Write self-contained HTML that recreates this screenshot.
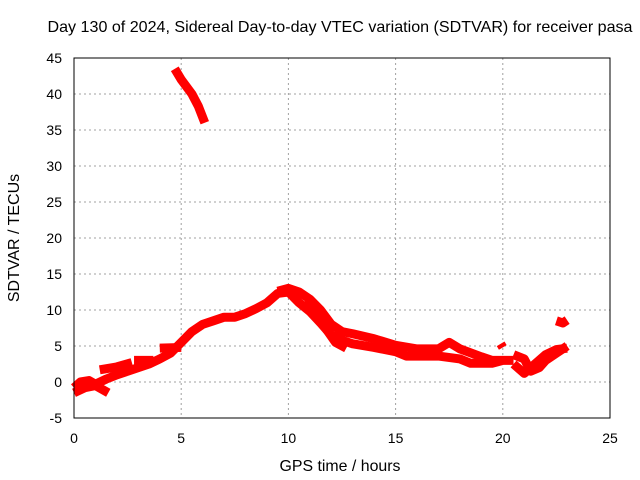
<!DOCTYPE html>
<html><head><meta charset="utf-8"><style>
body{margin:0;background:#fff;}
svg{display:block;font-family:"Liberation Sans",sans-serif;}
</style></head><body>
<svg id="chart" width="640" height="480" viewBox="0 0 640 480">
<text x="340" y="32" font-size="16" text-anchor="middle" textLength="585" lengthAdjust="spacingAndGlyphs">Day 130 of 2024, Sidereal Day-to-day VTEC variation (SDTVAR) for receiver pasa</text>
<text x="340" y="471" font-size="16" text-anchor="middle" textLength="121" lengthAdjust="spacingAndGlyphs">GPS time / hours</text>
<text x="19" y="238" font-size="16" text-anchor="middle" transform="rotate(-90 19 238)">SDTVAR / TECUs</text>
<g id="grid"></g>
<g id="ticks"></g>
<g id="series"></g>
<rect x="74" y="58" width="536" height="360" fill="none" stroke="#000" stroke-width="1"/>
</svg>
<script>
const xTicks=[0,5,10,15,20,25];
const yTicks=[-5,0,5,10,15,20,25,30,35,40,45];
const seriesMain=[[0,-0.8],[0.3,0],[0.7,0.2],[1,-0.3],[1.5,0.4],[2,1],[2.5,1.5],[3,2],[3.5,2.5],[4,3.2],[4.5,4],[5,5.5],[5.5,7],[6,8],[6.5,8.5],[7,9],[7.5,9],[8,9.5],[8.5,10.2],[9,11],[9.5,12.3],[10,12.5],[10.5,11],[11,9.8],[11.5,8.2],[12,6.5],[12.5,5.8],[13,5.3],[14,4.8],[15,4.2],[15.5,3.6],[16,3.6],[17,3.6],[18,3.2],[18.5,2.6],[19,2.6],[19.5,2.6],[20,3],[20.5,3]];
const seriesUpper=[[9.5,12.6],[10,13],[10.5,12.5],[11,11.5],[11.5,10],[12,8],[12.5,7],[13,6.7],[14,6],[15,5.1],[16,4.6],[17,4.6],[17.5,5.5],[18,4.6],[19,3.5],[19.5,3],[20,3]];
const seriesSpur=[[10.8,11.3],[11.3,9.2],[11.8,7.2],[12.2,5.5],[12.7,4.7]];
const seriesStepA=[[2.8,3],[3.7,3]];
const seriesStepB=[[4,4.7],[5,4.8]];
const seriesStepC=[[1.2,1.7],[2,2.1],[2.7,2.7]];
const seriesLow=[[0,-1.5],[0.5,-0.8],[1,-0.5],[1.6,-1.5]];
const seriesLate=[[20.5,3.8],[21,3.2],[21.3,1.5],[21.7,2],[22,3],[22.5,4],[23,5]];
const seriesLate2=[[20.5,2.5],[21,1.2],[21.5,2.5],[22,3.8],[22.5,4.5],[23,4.7]];
const seriesTop=[[4.7,43.5],[5,42],[5.5,40],[5.8,38.3],[6.1,36]];
const seriesBlob=[[22.5,8.5],[22.8,8.2],[23,8.6]];
const seriesSpot=[[19.9,5.3],[20,4.8]];
const allSeries=[seriesMain,seriesUpper,seriesSpur,seriesStepA,seriesStepB,seriesStepC,seriesLow,seriesLate,seriesLate2,seriesTop,seriesBlob,seriesSpot];
const X=v=>74+v*536/25, Y=v=>418-(v+5)*360/50;
const ns="http://www.w3.org/2000/svg";
const g=document.getElementById('grid'),t=document.getElementById('ticks'),s=document.getElementById('series');
xTicks.forEach(v=>{
 if(v>0&&v<25){const l=document.createElementNS(ns,'line');
 
 
 l.setAttribute('x1',X(v));l.setAttribute('x2',X(v));l.setAttribute('y1',58);l.setAttribute('y2',418);
 l.setAttribute('stroke','#a0a0a0');l.setAttribute('stroke-dasharray','2,3');g.appendChild(l);}
 const tx=document.createElementNS(ns,'text');
 
 
 tx.setAttribute('x',X(v));tx.setAttribute('y',443);tx.setAttribute('font-size','14');tx.setAttribute('text-anchor','middle');
 tx.textContent=v;t.appendChild(tx);
});
yTicks.forEach(v=>{
 if(v>-5&&v<45){const l=document.createElementNS(ns,'line');
 
 
 l.setAttribute('x1',74);l.setAttribute('x2',610);l.setAttribute('y1',Y(v));l.setAttribute('y2',Y(v));
 l.setAttribute('stroke','#a0a0a0');l.setAttribute('stroke-dasharray','2,3');g.appendChild(l);}
 const tx=document.createElementNS(ns,'text');
 
 
 tx.setAttribute('x',62);tx.setAttribute('y',Y(v)+5);tx.setAttribute('font-size','14');tx.setAttribute('text-anchor','end');
 tx.textContent=v;t.appendChild(tx);
});
allSeries.forEach(arr=>{
 const p=document.createElementNS(ns,'polyline');
 
 
 p.setAttribute('points',arr.map(d=>X(d[0])+','+Y(d[1])).join(' '));
 p.setAttribute('fill','none');p.setAttribute('stroke','#ff0000');p.setAttribute('stroke-width','9');
 p.setAttribute('stroke-linejoin','round');
 s.appendChild(p);
});
</script>
</body></html>
